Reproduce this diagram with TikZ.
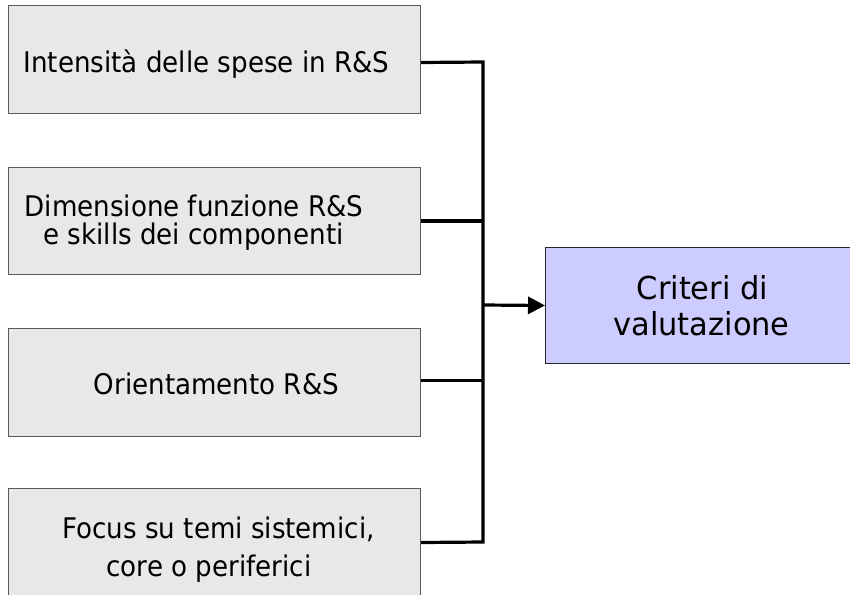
\documentclass[tikz,border=0pt]{standalone}
\usepackage{fontspec}
\setmainfont{DejaVu Sans}
\newfontfamily\srcfont[FakeStretch=0.92]{DejaVu Sans}
\newfontfamily\resfont[FakeStretch=0.965]{DejaVu Sans}
\usetikzlibrary{arrows.meta}
\definecolor{boxgray}{HTML}{E8E8E8}
\definecolor{boxblue}{HTML}{CCCCFF}
\definecolor{edgegray}{HTML}{5A5A5A}
\begin{document}
\begin{tikzpicture}[x=1pt,y=-1pt,
  srcbox/.style={draw=edgegray, fill=boxgray, line width=1pt, inner sep=0pt,
    minimum width=412pt, minimum height=108pt, anchor=north west},
  resbox/.style={draw=black!85, fill=boxblue, line width=1pt, inner sep=0pt,
    minimum width=310pt, minimum height=116pt, anchor=north west},
  srctext/.style={anchor=base, inner sep=0pt, font=\srcfont\fontsize{28.4}{30}\selectfont},
  restext/.style={anchor=base, inner sep=0pt, font=\resfont\fontsize{31.6}{36}\selectfont},
  conn/.style={line width=3.2pt, line join=miter, line cap=butt}]
\useasboundingbox (0,0) rectangle (850,594);

% input boxes
\node[srcbox] (b1) at (8,5) {};
\node[srcbox, minimum height=107pt] (b2) at (8,167) {};
\node[srcbox] (b3) at (8,328) {};
\node[srcbox] (b4) at (8,488) {};

% result box
\node[resbox] (res) at (545,247) {};

% labels
\node[srctext] (t1) at (206.5,72.7) {Intensità delle spese in R\&S};
\node[srctext, text depth=0pt] (t2a) at (194,216.5) {Dimensione funzione R\&S};
\node[srctext] (t2b) at (193.5,244.2) {e skills dei componenti};
\node[srctext] (t3) at (216.5,394) {Orientamento R\&S};
\node[srctext] (t4a) at (218.5,538.3) {Focus su temi sistemici,};
\node[srctext] (t4b) at (209,576.5) {core o periferici};
\node[restext] (r1) at (702.5,299) {Criteri di};
\node[restext] (r2) at (701.5,335) {valutazione};

% collecting bus
\coordinate (bustop) at (483,62);
\coordinate (busmid) at (483,305);
\coordinate (busbot) at (483,542);

\draw[conn] ([yshift=-3pt]b1.east) -- (bustop) -- (busbot) -- (b4.east);
\draw[conn] (b2.east) -- (b2.east -| busmid);
\draw[conn] ([yshift=2pt]b3.east) -- ([yshift=2pt]b3.east -| busmid);
\draw[conn, -{Triangle[length=17pt,width=17pt]}] (busmid) -- (res.west);
\end{tikzpicture}
\end{document}
